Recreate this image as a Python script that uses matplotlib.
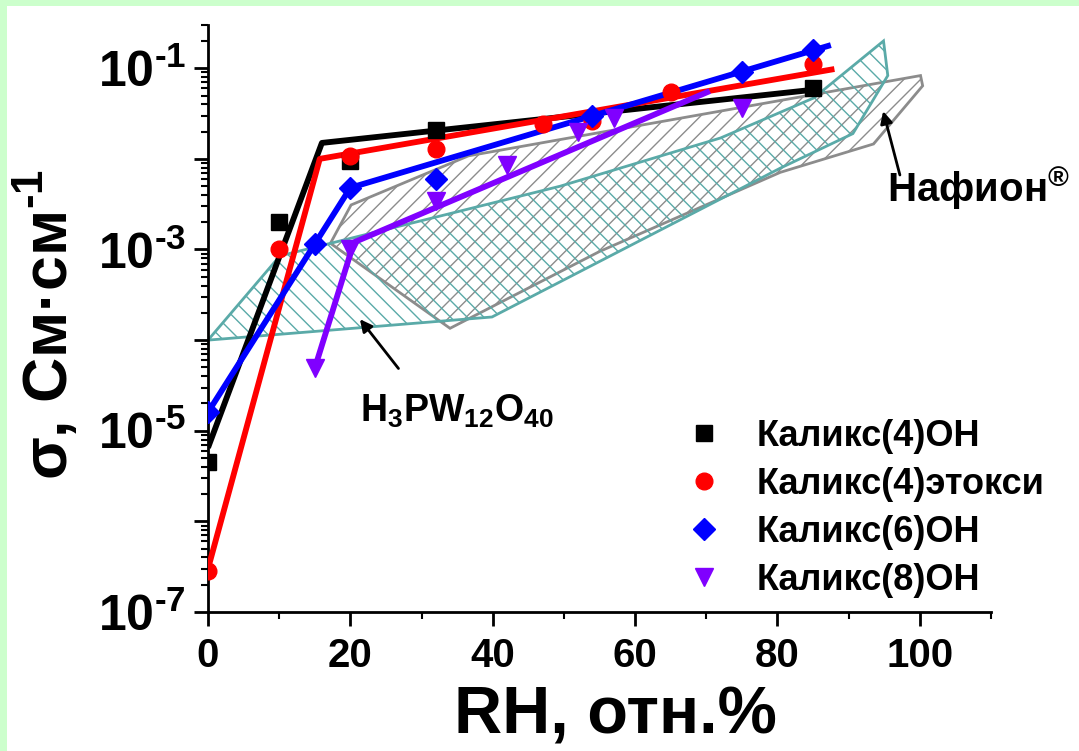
import matplotlib
matplotlib.use("Agg")
import matplotlib.pyplot as plt
from matplotlib.patches import Polygon, Rectangle
from matplotlib.ticker import LogLocator, NullFormatter
import numpy as np

plt.rcParams['font.family'] = ['Liberation Sans', 'DejaVu Sans']
plt.rcParams['font.weight'] = 'bold'
plt.rcParams['mathtext.fontset'] = 'custom'
plt.rcParams['mathtext.rm'] = 'Liberation Sans:bold'
plt.rcParams['mathtext.bf'] = 'Liberation Sans:bold'
plt.rcParams['mathtext.it'] = 'Liberation Sans:bold'
plt.rcParams['mathtext.default'] = 'rm'
plt.rcParams['hatch.linewidth'] = 1.0

# ---------------- data ----------------
labels = ['Каликс(4)ОН', 'Каликс(4)этокси', 'Каликс(6)ОН', 'Каликс(8)ОН']
colors = ['#000000', '#ff0000', '#0000ff', '#8000ff']
markers = ['s', 'o', 'D', 'v']

rh_c4oh = [0, 10, 20, 32, 85]
sig_c4oh = [4.5e-6, 2.0e-3, 9.5e-3, 2.1e-2, 6.0e-2]
fit_x_c4oh = [0, 16, 86]
fit_y_c4oh = [6.5e-6, 1.5e-2, 5.9e-2]

rh_c4et = [0, 10, 20, 32, 47, 54, 65, 85]
sig_c4et = [2.8e-7, 1.0e-3, 1.08e-2, 1.3e-2, 2.4e-2, 2.6e-2, 5.4e-2, 1.1e-1]
fit_x_c4et = [0, 15.7, 88]
fit_y_c4et = [3.0e-7, 1.0e-2, 9.8e-2]

rh_c6oh = [0, 15, 20, 32, 54, 75, 85]
sig_c6oh = [1.6e-5, 1.15e-3, 4.8e-3, 6.0e-3, 3.0e-2, 9.0e-2, 1.6e-1]
fit_x_c6oh = [0, 15, 20, 87.5]
fit_y_c6oh = [1.6e-5, 1.15e-3, 4.8e-3, 1.8e-1]

rh_c8oh = [15, 20, 32, 42, 52, 57, 75]
sig_c8oh = [4.9e-5, 1.0e-3, 3.4e-3, 8.5e-3, 2.0e-2, 2.8e-2, 3.6e-2]
fit_x_c8oh = [15, 20.5, 70.5]
fit_y_c8oh = [4.9e-5, 1.2e-3, 5.6e-2]

# Nafion region (grey)
nafion_x = [17.2, 20.1, 36.6, 100.1, 100.4, 93.5, 80.4, 55.0, 34.0]
nafion_y = [1.17e-3, 3.1e-3, 1.08e-2, 8.3e-2, 6.4e-2, 1.46e-2, 7.1e-3, 9.5e-4, 1.35e-4]

# H3PW12O40 region (teal)
hpw_x = [0, 10.1, 49.5, 72.0, 85.1, 94.9, 95.5, 90.6, 80.4, 39.9]
hpw_y = [1.0e-4, 8.5e-4, 5.0e-3, 1.7e-2, 4.7e-2, 2.0e-1, 8.3e-2, 1.9e-2, 7.9e-3, 1.8e-4]

xticks = [0, 20, 40, 60, 80, 100]
xticks_minor = [10, 30, 50, 70, 90, 110]
yticks = [1e-7, 1e-6, 1e-5, 1e-4, 1e-3, 1e-2, 1e-1]
ytick_labels = [r'$10^{\text{-7}}$', '', r'$10^{\text{-5}}$', '',
                r'$10^{\text{-3}}$', '', r'$10^{\text{-1}}$']

# ---------------- figure ----------------
W, H = 1079, 751
fig = plt.figure(figsize=(W / 100, H / 100), dpi=100)
fig.patch.set_facecolor('#ccffcc')
fig.patches.append(Rectangle((7 / W, 0), 1 - 7 / W, 1 - 6 / H, transform=fig.transFigure,
                             facecolor='white', edgecolor='none', zorder=-10))

ax = fig.add_axes([208 / W, 1 - 612 / H, (991 - 208) / W, (612 - 25) / H])
ax.set_facecolor('none')
ax.set_yscale('log')
ax.set_xlim(0, 110)
ax.set_ylim(1e-7, 0.3)

# hatched regions
ax.add_patch(Polygon(np.column_stack([nafion_x, nafion_y]), closed=True, facecolor='none',
                     edgecolor='#8c8c8c', hatch='//', linewidth=2, zorder=1))
ax.add_patch(Polygon(np.column_stack([hpw_x, hpw_y]), closed=True, facecolor='none',
                     edgecolor='#5aaaa8', hatch='\\\\', linewidth=2, zorder=1.5))

series = [
    (rh_c4oh, sig_c4oh, fit_x_c4oh, fit_y_c4oh, 11),
    (rh_c4et, sig_c4et, fit_x_c4et, fit_y_c4et, 12),
    (rh_c6oh, sig_c6oh, fit_x_c6oh, fit_y_c6oh, 11),
    (rh_c8oh, sig_c8oh, fit_x_c8oh, fit_y_c8oh, 13),
]
handles = []
for (x, y, fx, fy, ms), c, m, lab in zip(series, colors, markers, labels):
    ax.plot(fx, fy, color=c, lw=4.2, zorder=3, solid_capstyle='butt')
    h, = ax.plot(x, y, linestyle='none', marker=m, color=c, markersize=ms, zorder=4, label=lab)
    handles.append(h)

# axes styling
for s in ['top', 'right']:
    ax.spines[s].set_visible(False)
for s in ['left', 'bottom']:
    ax.spines[s].set_linewidth(2)
ax.set_xticks(xticks)
ax.set_xticks(xticks_minor, minor=True)
ax.set_yticks(yticks)
ax.set_yticklabels(ytick_labels)
ax.yaxis.set_minor_locator(LogLocator(base=10, subs=np.arange(2, 10), numticks=100))
ax.yaxis.set_minor_formatter(NullFormatter())
ax.tick_params(axis='both', which='major', direction='out', width=2, length=10)
ax.tick_params(axis='both', which='minor', direction='out', width=1.5, length=5)
ax.tick_params(axis='x', labelsize=29, pad=8)
ax.tick_params(axis='y', labelsize=36, pad=6)
for t in ax.get_xticklabels():
    t.set_fontweight('bold')

ax.set_xlabel('RH, отн.%', fontsize=48, fontweight='bold')
ax.xaxis.set_label_coords((615 - 208) / 783, -0.125)
ax.xaxis.label.set_va('top')
ax.set_ylabel(r'σ, См·см$^{\text{-1}}$', fontsize=45, fontweight='bold')
ax.yaxis.set_label_coords((80 - 208) / 783, (612 - 325) / 587)

# annotations
ax.annotate('', xy=(94.75, 3.6e-2), xytext=(97.3, 6.2e-3),
            arrowprops=dict(arrowstyle='-|>', color='black', lw=2, mutation_scale=18))
ax.text(95.4, 4.7e-3, r'Нафион$^{®}$', fontsize=29, fontweight='bold', ha='left', va='center')
ax.annotate('', xy=(21.1, 1.8e-4), xytext=(27.0, 4.6e-5),
            arrowprops=dict(arrowstyle='-|>', color='black', lw=2, mutation_scale=18))
ax.text(35.0, 1.65e-5, r'H$_3$PW$_{12}$O$_{40}$', fontsize=27, fontweight='bold',
        ha='center', va='center')

leg = fig.legend(handles=handles, labels=labels, loc='upper left',
                 bbox_to_anchor=(690 / W, 1 - 419 / H), bbox_transform=fig.transFigure,
                 frameon=False, fontsize=26, handlelength=0.8, handletextpad=1.04,
                 labelspacing=0.36, borderpad=0, borderaxespad=0, numpoints=1)
for t in leg.get_texts():
    t.set_fontweight('bold')

fig.savefig('out.png', dpi=100, facecolor=fig.get_facecolor())
